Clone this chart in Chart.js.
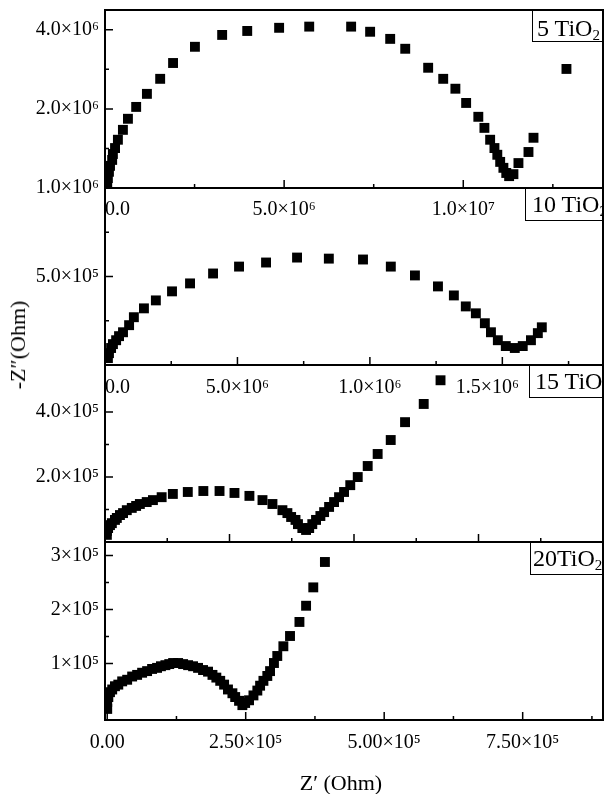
<!DOCTYPE html>
<html>
<head>
<meta charset="utf-8">
<title>Impedance - TiO2</title>
<script src="https://cdn.jsdelivr.net/npm/chart.js@4.4.0/dist/chart.umd.min.js"></script>
<style>
  body { margin: 0; background: #fff; }
  #fig { position: relative; width: 604px; height: 794px; overflow: hidden; font-family: 'Liberation Serif', 'Times New Roman', serif; color: #000; }
  #fig canvas { position: absolute; left: 0; top: 0; }
  .tag { position: absolute; box-sizing: border-box; border: 1.5px solid #000; font-size: 24px; line-height: 24px; white-space: nowrap; }
  .tag sub { font-size: 15px; vertical-align: -4px; line-height: 0; }
  .ytitle { position: absolute; left: 18px; top: 345px; font-size: 22px; white-space: nowrap; transform: translate(-50%, -50%) rotate(-90deg); }
  .xtitle { position: absolute; left: 341px; top: 770px; font-size: 22px; white-space: nowrap; transform: translateX(-50%); }
</style>
</head>
<body>
<div id="fig">
  <div id="plots"></div>
  <div class="tag" style="left:532px; top:10px; width:72px; height:32px; padding:5px 0 0 4px;">5 TiO<sub>2</sub></div>
  <div class="tag" style="left:525px; top:188px; width:79px; height:33px; padding:3px 0 0 6px;">10 TiO<sub>2</sub></div>
  <div class="tag" style="left:529px; top:365px; width:75px; height:33px; padding:3px 0 0 5px;">15 TiO<sub>2</sub></div>
  <div class="tag" style="left:530px; top:542px; width:74px; height:33px; padding:3px 0 0 2px;">20TiO<sub>2</sub></div>
  <div class="ytitle">-Z″(Ohm)</div>
  <div class="xtitle">Z′ (Ohm)</div>
</div>
<script>
// 5 TiO2 : Z' and -Z'' in units of 1e6 Ohm
const re1 = [0.06, 0.06, 0.08, 0.11, 0.14, 0.20, 0.22, 0.28, 0.36, 0.50, 0.64, 0.87, 1.17, 1.54, 1.90, 2.51, 3.27, 3.97, 4.86, 5.70,
  6.87, 7.40, 7.96, 8.38, 9.02, 9.44, 9.78, 10.08, 10.42, 10.59, 10.75, 10.87, 10.95, 11.03, 11.12, 11.20, 11.28, 11.40, 11.54, 11.82, 11.96, 12.88]
const im1 = [0.03, 0.13, 0.25, 0.41, 0.56, 0.71, 0.86, 1.01, 1.22, 1.47, 1.75, 2.05, 2.38, 2.76, 3.16, 3.57, 3.87, 3.97, 4.05, 4.08,
  4.08, 3.95, 3.77, 3.52, 3.04, 2.76, 2.51, 2.15, 1.80, 1.52, 1.22, 1.01, 0.84, 0.66, 0.51, 0.38, 0.30, 0.35, 0.63, 0.91, 1.27, 3.01]

// 10 TiO2 : units of 1e5 Ohm
const re2 = [0.11, 0.15, 0.23, 0.30, 0.42, 0.53, 0.68, 0.91, 1.09, 1.47, 1.92, 2.53, 3.21, 4.08, 5.06, 6.08, 7.25, 8.45, 9.74, 10.79,
  11.70, 12.57, 13.17, 13.62, 14.00, 14.34, 14.57, 14.83, 15.13, 15.47, 15.77, 16.08, 16.34, 16.49]
const im2 = [0.39, 0.67, 0.96, 1.18, 1.40, 1.63, 1.85, 2.25, 2.70, 3.20, 3.65, 4.16, 4.61, 5.17, 5.56, 5.79, 6.07, 6.01, 5.96, 5.56,
  5.06, 4.44, 3.93, 3.31, 2.92, 2.36, 1.85, 1.40, 1.07, 0.96, 1.07, 1.40, 1.80, 2.13]

// 15 TiO2 : units of 1e5 Ohm
const re3 = [0.03, 0.03, 0.05, 0.08, 0.11, 0.16, 0.19, 0.24, 0.29, 0.35, 0.43, 0.50, 0.56, 0.67, 0.77, 0.91, 1.09, 1.33, 1.58, 1.84,
  2.08, 2.32, 2.53, 2.69, 2.85, 2.93, 2.99, 3.06, 3.10, 3.17, 3.23, 3.28, 3.33, 3.39, 3.46, 3.52, 3.60, 3.68, 3.76, 3.84,
  3.94, 4.06, 4.22, 4.38, 4.59, 4.82, 5.12, 5.39]
const im3 = [0.22, 0.34, 0.43, 0.52, 0.58, 0.68, 0.74, 0.83, 0.89, 0.98, 1.05, 1.11, 1.17, 1.23, 1.29, 1.38, 1.48, 1.54, 1.57, 1.57,
  1.51, 1.42, 1.29, 1.17, 0.98, 0.89, 0.77, 0.68, 0.55, 0.43, 0.37, 0.43, 0.55, 0.68, 0.80, 0.92, 1.08, 1.23, 1.38, 1.54,
  1.75, 2.00, 2.34, 2.71, 3.14, 3.69, 4.25, 4.98]

// 20 TiO2 : units of 1e5 Ohm
const re4 = [0.00, 0.00, 0.02, 0.05, 0.09, 0.14, 0.20, 0.27, 0.36, 0.45, 0.54, 0.63, 0.72, 0.81, 0.90, 0.97, 1.05, 1.12, 1.19, 1.28,
  1.37, 1.46, 1.55, 1.64, 1.73, 1.82, 1.90, 1.97, 2.04, 2.11, 2.18, 2.26, 2.31, 2.38, 2.44, 2.49, 2.56, 2.64, 2.71, 2.76,
  2.82, 2.89, 2.94, 3.01, 3.07, 3.18, 3.30, 3.47, 3.59, 3.72, 3.93]
const im4 = [0.16, 0.29, 0.38, 0.47, 0.52, 0.58, 0.61, 0.67, 0.70, 0.76, 0.79, 0.83, 0.86, 0.90, 0.92, 0.95, 0.97, 0.99, 1.01, 1.01,
  0.99, 0.97, 0.95, 0.92, 0.88, 0.85, 0.79, 0.74, 0.68, 0.61, 0.52, 0.45, 0.38, 0.31, 0.23, 0.27, 0.32, 0.41, 0.50, 0.59,
  0.68, 0.77, 0.86, 1.01, 1.14, 1.32, 1.51, 1.77, 2.07, 2.41, 2.88]

// Ticks (same units as the data) and their labels
const xMaj1 = [0, 5, 10], xLab1 = ['0.0', '5.0×10⁶', '1.0×10⁷'], xMin1 = [2.5, 7.5, 12.5]
const yMaj1 = [0, 2, 4], yLab1 = ['1.0×10⁶', '2.0×10⁶', '4.0×10⁶'], yMin1 = [1, 3]

// last label padded on the right so it stays clear of the tag box
const xMaj2 = [0, 5, 10, 15], xLab2 = ['0.0', '5.0×10⁶', '1.0×10⁶', '1.5×10⁶\u2003\u2002'], xMin2 = [2.5, 7.5, 12.5, 17.5]
const yMaj2 = [5], yLab2 = ['5.0×10⁵'], yMin2 = [2.5, 7.5]

const xMaj3 = [2, 4, 6], xLab3 = ['', '', ''], xMin3 = [1, 3, 5, 7]
const yMaj3 = [2, 4], yLab3 = ['2.0×10⁵', '4.0×10⁵'], yMin3 = [1, 3]

const xMaj4 = [0, 2.5, 5, 7.5], xLab4 = ['0.00', '2.50×10⁵', '5.00×10⁵', '7.50×10⁵'], xMin4 = [1.25, 3.75, 6.25, 8.75]
const yMaj4 = [1, 2, 3], yLab4 = ['1×10⁵', '2×10⁵', '3×10⁵'], yMin4 = [0.5, 1.5, 2.5]

// panel layout: plot top/bottom in page pixels, axis ranges
const panels = [
    { re: re1, im: im1, top: 10, bottom: 188, x: [0, 13.9], y: [0, 4.5], xMaj: xMaj1, xLab: xLab1, xMin: xMin1, yMaj: yMaj1, yLab: yLab1, yMin: yMin1, pad: 10, align: 'inner' },
    { re: re2, im: im2, top: 188, bottom: 365, x: [0, 18.8], y: [0, 10], xMaj: xMaj2, xLab: xLab2, xMin: xMin2, yMaj: yMaj2, yLab: yLab2, yMin: yMin2, pad: 11, align: 'inner' },
    { re: re3, im: im3, top: 365, bottom: 542, x: [0, 8.0], y: [0, 5.45], xMaj: xMaj3, xLab: xLab3, xMin: xMin3, yMaj: yMaj3, yLab: yLab3, yMin: yMin3, pad: 11, align: 'center' },
    { re: re4, im: im4, top: 542, bottom: 720, x: [-0.04, 8.95], y: [-0.045, 3.25], xMaj: xMaj4, xLab: xLab4, xMin: xMin4, yMaj: yMaj4, yLab: yLab4, yMin: yMin4, pad: 11, align: 'center' }
]

const W = 604, H = 794, LEFT = 105, XAXIS_H = 40

Chart.defaults.font.family = "'Liberation Serif', 'Times New Roman', serif"
Chart.defaults.font.size = 20
Chart.defaults.color = '#000'

function labelFor(majors, labels) {
    return function (value) {
        let i = majors.findIndex(m => Math.abs(m - value) < 1e-6)
        return i < 0 ? '' : labels[i]
    }
}

// box around the plot + inward tick marks
function framePlugin(p) {
    return {
        id: 'frame',
        afterDatasetsDraw(chart) {
            const ctx = chart.ctx
            const a = chart.chartArea
            const xs = chart.scales.x, ys = chart.scales.y
            ctx.save()
            ctx.strokeStyle = '#000'
            ctx.lineWidth = 2
            ctx.strokeRect(a.left, a.top, a.right - a.left, a.bottom - a.top)
            ctx.lineWidth = 1.5
            ctx.beginPath()
            p.xMaj.concat(p.xMin).forEach(v => {
                let px = xs.getPixelForValue(v)
                let len = p.xMaj.includes(v) ? 8 : 4
                ctx.moveTo(px, a.bottom)
                ctx.lineTo(px, a.bottom - len)
            })
            p.yMaj.concat(p.yMin).forEach(v => {
                let py = ys.getPixelForValue(v)
                let len = p.yMaj.includes(v) ? 8 : 4
                ctx.moveTo(a.left, py)
                ctx.lineTo(a.left + len, py)
            })
            ctx.stroke()
            ctx.restore()
        }
    }
}

// the axes must not push the plot area in for their end labels
function noPad(s) {
    s.paddingLeft = 0
    s.paddingRight = 0
    s.paddingTop = 0
    s.paddingBottom = 0
}

const plots = document.getElementById('plots')

panels.forEach(p => {
    const canvas = document.createElement('canvas')
    canvas.width = W
    canvas.height = H
    plots.appendChild(canvas)

    new Chart(canvas, {
        type: 'scatter',
        data: {
            datasets: [{
                data: p.re.map((v, i) => ({ x: v, y: p.im[i] })),
                pointStyle: 'rect',
                pointRadius: 7,
                backgroundColor: '#000',
                borderColor: '#000',
                borderWidth: 0,
                clip: 0
            }]
        },
        options: {
            responsive: false,
            animation: false,
            events: [],
            layout: { autoPadding: false, padding: { left: 0, right: 1, top: p.top, bottom: H - XAXIS_H - p.bottom } },
            plugins: { legend: { display: false }, tooltip: { enabled: false } },
            scales: {
                x: {
                    type: 'linear',
                    min: p.x[0],
                    max: p.x[1],
                    afterFit(s) { s.height = XAXIS_H; noPad(s) },
                    afterBuildTicks(s) { s.ticks = p.xMaj.concat(p.xMin).sort((a, b) => a - b).map(v => ({ value: v })) },
                    grid: { display: false, drawTicks: false },
                    border: { display: false },
                    ticks: {
                        display: p.xLab.some(t => t !== ''),
                        autoSkip: false,
                        maxRotation: 0,
                        padding: p.pad,
                        align: p.align,
                        callback: labelFor(p.xMaj, p.xLab)
                    }
                },
                y: {
                    type: 'linear',
                    min: p.y[0],
                    max: p.y[1],
                    afterFit(s) { s.width = LEFT; noPad(s) },
                    afterBuildTicks(s) { s.ticks = p.yMaj.concat(p.yMin).sort((a, b) => a - b).map(v => ({ value: v })) },
                    grid: { display: false, drawTicks: false },
                    border: { display: false },
                    ticks: {
                        autoSkip: false,
                        padding: 6,
                        callback: labelFor(p.yMaj, p.yLab)
                    }
                }
            }
        },
        plugins: [framePlugin(p)]
    })
})
</script>
</body>
</html>
